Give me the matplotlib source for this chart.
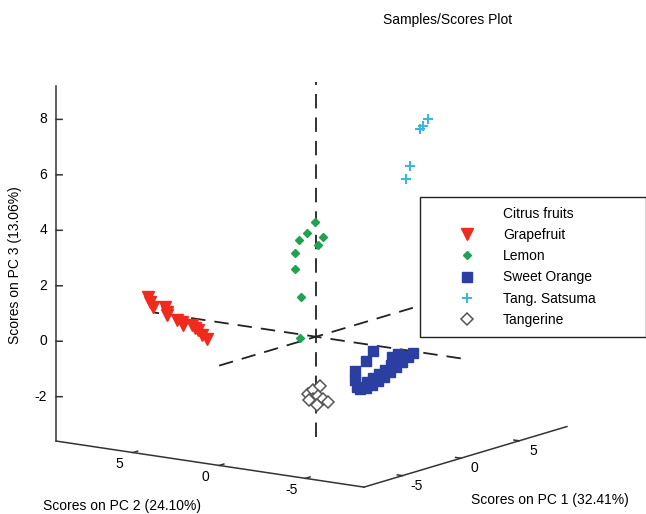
import matplotlib
matplotlib.use("Agg")
import matplotlib.pyplot as plt
from matplotlib.lines import Line2D

plt.rcParams["font.family"] = ["Liberation Sans", "DejaVu Sans"]

# axis limits and ticks (PC1, PC2, PC3)
pc1_lim = (-8.3, 9.1)
pc2_lim = (-8.4, 9.45)
pc3_lim = (-3.6, 9.2)
pc1_ticks = [-5, 0, 5]
pc2_ticks = [-5, 0, 5]
pc3_ticks = [-2, 0, 2, 4, 6, 8]

# scores
grapefruit_pc1 = [-1.0, -1.0, -1.0, -1.0, -1.0, -1.0, -1.0, -1.0, -1.0, -1.0, -1.0, -1.0, -1.0, -1.0]
grapefruit_pc2 = [9.09, 8.92, 8.80, 8.05, 7.94, 7.94, 7.36, 7.07, 7.01, 6.49, 6.32, 6.14, 5.91, 5.62]
grapefruit_pc3 = [0.72, 0.55, 0.38, 0.45, 0.28, 0.18, 0.05, 0.00, -0.10, -0.05, -0.14, -0.20, -0.36, -0.47]

lemon_pc1 = [1.0, 1.0, 1.0, 1.0, 1.0, 1.0, 1.0, 1.0, 1.0]
lemon_pc2 = [0.73, 1.20, 1.66, 0.27, 0.56, 1.89, 1.89, 1.54, 1.60]
lemon_pc3 = [3.94, 3.50, 3.21, 3.45, 3.13, 2.72, 2.14, 1.17, -0.31]

orange_pc1 = [4.0] * 24
orange_pc2 = [0.16, -0.18, -0.53, -0.88, -1.23, -1.57, -1.92, -2.27, -2.61, -2.90,
              -0.24, -0.59, -0.94, -1.28, -1.63, -1.98, -2.32, -2.03, -1.69,
              0.45, 0.45, 0.34, -0.59, -0.18]
orange_pc3 = [-2.42, -2.32, -2.18, -2.00, -1.83, -1.62, -1.40, -1.19, -0.98, -0.81,
              -2.10, -1.92, -1.75, -1.57, -1.36, -1.15, -0.97, -0.92, -1.06,
              -1.77, -2.09, -2.33, -0.95, -1.35]

satsuma_pc1 = [6.0, 6.0, 6.0, 6.0, 6.0]
satsuma_pc2 = [-2.42, -2.13, -1.95, -1.38, -1.14]
satsuma_pc3 = [7.31, 7.03, 6.91, 5.52, 5.04]

tangerine_pc1 = [1.0, 1.0, 1.0, 1.0, 1.0, 1.0, 1.0, 1.0, 1.0]
tangerine_pc2 = [1.14, 0.85, 0.45, 0.85, 0.56, 0.27, -0.02, 0.62, 1.08]
tangerine_pc3 = [-2.28, -2.11, -1.93, -2.44, -2.30, -2.38, -2.46, -2.63, -2.49]

W, H = 646, 514
fig = plt.figure(figsize=(W / 100, H / 100), dpi=100)
# square 3D axes, sized so the box lands where MATLAB put it
side = 612
ax = fig.add_axes([-2.7 / W, -56.6 / H, side / W, side / H], projection="3d")
ax.set_proj_type("ortho")
ax.view_init(elev=12.2, azim=-144.7)
ax.set_box_aspect((352, 378, 364))
ax.set_xlim(*pc1_lim)
ax.set_ylim(*pc2_lim)
ax.set_zlim(*pc3_lim)
ax.set_axis_off()
ax.computed_zorder = False

x0, x1 = pc1_lim
y0, y1 = pc2_lim
z0, z1 = pc3_lim

# box edges (MATLAB style, three lines only)
frame = dict(color="#333333", lw=1.1, zorder=1)
ax.plot([x0, x1], [y0, y0], [z0, z0], **frame)
ax.plot([x0, x0], [y0, y1], [z0, z0], **frame)
ax.plot([x0, x0], [y1, y1], [z0, z1], **frame)

for t in pc1_ticks:
    ax.plot([t, t], [y0, y0 + 0.3], [z0, z0], **frame)
    ax.text(t, y0 - 0.81, z0 - 0.29, str(t), ha="center", va="center", fontsize=10)
for t in pc2_ticks:
    ax.plot([x0, x0 + 0.4], [t, t], [z0, z0], **frame)
    ax.text(x0 - 1.2, t, z0 - 0.28, str(t), ha="center", va="center", fontsize=10)
for t in pc3_ticks:
    ax.plot([x0, x0 + 0.17], [y1, y1 - 0.23], [t, t], **frame)
    ax.text(x0 - 0.26, y1 + 0.35, t, str(t), ha="right", va="center", fontsize=10)

# dashed lines through the origin
dash = dict(color="#222222", lw=1.3, ls=(0, (8, 5)), zorder=2)
ax.plot([x0, x1], [0, 0], [0, 0], **dash)
ax.plot([0, 0], [y0, y1], [0, 0], **dash)
ax.plot([0, 0], [0, 0], [z0, z1], **dash)

h1, = ax.plot(grapefruit_pc1, grapefruit_pc2, grapefruit_pc3, ls="none", marker="v",
              ms=9, color="#f02a1c", zorder=3, label="Grapefruit")
h2, = ax.plot(lemon_pc1, lemon_pc2, lemon_pc3, ls="none", marker="D",
              ms=4.5, color="#1ea34e", zorder=3, label="Lemon")
h3, = ax.plot(orange_pc1, orange_pc2, orange_pc3, ls="none", marker="s",
              ms=7.5, color="#2b3fa3", zorder=3, label="Sweet Orange")
h4, = ax.plot(satsuma_pc1, satsuma_pc2, satsuma_pc3, ls="none", marker="+",
              ms=7, mew=1.5, color="#3bb7db", zorder=3, label="Tang. Satsuma")
h5, = ax.plot(tangerine_pc1, tangerine_pc2, tangerine_pc3, ls="none", marker="D",
              ms=6, mfc="white", mec="#555555", mew=1.1, zorder=4, label="Tangerine")

header = Line2D([], [], ls="none", marker="none", label="Citrus fruits")
leg = fig.legend(handles=[header, h1, h2, h3, h4, h5],
                 loc="upper left", bbox_to_anchor=(420 / W, 0, 226 / W, 1 - 197 / H),
                 mode="expand", borderaxespad=0, fontsize=10, frameon=True,
                 fancybox=False, framealpha=1, edgecolor="#222222",
                 borderpad=0.7, handlelength=5.36, handletextpad=-0.09, labelspacing=0.52)
leg.get_frame().set_linewidth(1.0)

fig.text(448 / W, 1 - 20 / H, "Samples/Scores Plot", ha="center", va="center", fontsize=10)
fig.text(122 / W, 1 - 506 / H, "Scores on PC 2 (24.10%)", ha="center", va="center", fontsize=10)
fig.text(550 / W, 1 - 500 / H, "Scores on PC 1 (32.41%)", ha="center", va="center", fontsize=10)
fig.text(15 / W, 1 - 265 / H, "Scores on PC 3 (13.06%)", ha="center", va="center",
         rotation=90, fontsize=10)

fig.savefig("out.png", dpi=100)
